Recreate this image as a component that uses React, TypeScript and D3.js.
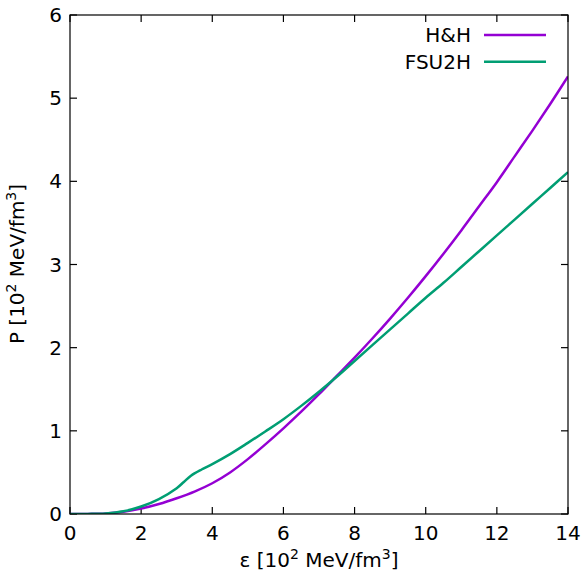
import React from "react";
import * as d3 from "d3";

const hhEps = [0, 0.5, 1, 1.5, 2, 2.5, 3, 3.5, 4, 4.5, 5, 5.5, 6, 6.5, 7, 7.5, 8, 8.5, 9, 9.5, 10, 10.5, 11, 11.5, 12, 12.5, 13, 13.5, 14];
const hhP = [0, 0.001, 0.006, 0.027, 0.065, 0.12, 0.19, 0.27, 0.37, 0.5, 0.66, 0.84, 1.03, 1.23, 1.44, 1.66, 1.88, 2.11, 2.35, 2.6, 2.86, 3.13, 3.41, 3.7, 3.99, 4.3, 4.61, 4.93, 5.26];

const fsuEps = [0, 0.5, 1, 1.5, 2, 2.5, 3, 3.2, 3.4, 3.7, 4, 4.5, 5, 5.5, 6, 6.5, 7, 7.5, 8, 8.5, 9, 9.5, 10, 10.5, 11, 11.5, 12, 12.5, 13, 13.5, 14];
const fsuP = [0, 0.001, 0.007, 0.032, 0.09, 0.18, 0.31, 0.385, 0.46, 0.535, 0.6, 0.72, 0.855, 0.995, 1.14, 1.3, 1.47, 1.65, 1.84, 2.03, 2.22, 2.41, 2.6, 2.78, 2.97, 3.16, 3.35, 3.54, 3.73, 3.92, 4.11];

const xTicks = [0, 2, 4, 6, 8, 10, 12, 14];
const yTicks = [0, 1, 2, 3, 4, 5, 6];
const seriesNames = ["H&H", "FSU2H"];
const colors = ["#9400d3", "#009e73"];

export default function App() {
  const W = 587, H = 573;
  const left = 70, right = 568, top = 15, bottom = 514;
  const x = d3.scaleLinear().domain([0, 14]).range([left, right]);
  const y = d3.scaleLinear().domain([0, 6]).range([bottom, top]);
  const line = d3.line<[number, number]>().x(d => x(d[0])).y(d => y(d[1])).curve(d3.curveCatmullRom.alpha(0.5));
  const series = [
    hhEps.map((e, i) => [e, hhP[i]] as [number, number]),
    fsuEps.map((e, i) => [e, fsuP[i]] as [number, number]),
  ];
  const font = "DejaVu Sans, sans-serif";
  const fs = 20;
  const tl = 7;
  return (
    <svg width={W} height={H} style={{ position: "absolute", left: 0, top: 0, background: "#fff" }} fontFamily={font}>
      <rect x={0} y={0} width={W} height={H} fill="#fff" />
      <defs>
        <clipPath id="clip"><rect x={left} y={top} width={right - left} height={bottom - top} /></clipPath>
      </defs>
      {xTicks.map(t => (
        <g key={"x" + t}>
          <line x1={x(t)} x2={x(t)} y1={bottom} y2={bottom - tl} stroke="#000" strokeWidth={1.2} />
          <line x1={x(t)} x2={x(t)} y1={top} y2={top + tl} stroke="#000" strokeWidth={1.2} />
          <text x={x(t)} y={540} textAnchor="middle" fontSize={fs}>{t}</text>
        </g>
      ))}
      {yTicks.map(t => (
        <g key={"y" + t}>
          <line x1={left} x2={left + tl} y1={y(t)} y2={y(t)} stroke="#000" strokeWidth={1.2} />
          <line x1={right} x2={right - tl} y1={y(t)} y2={y(t)} stroke="#000" strokeWidth={1.2} />
          <text x={62} y={y(t) + 7} textAnchor="end" fontSize={fs}>{t}</text>
        </g>
      ))}
      <g clipPath="url(#clip)">
        {series.map((s, i) => (
          <path key={i} d={line(s) || ""} fill="none" stroke={colors[i]} strokeWidth={2.5} />
        ))}
      </g>
      <rect x={left} y={top} width={right - left} height={bottom - top} fill="none" stroke="#000" strokeWidth={1.2} />
      {seriesNames.map((n, i) => (
        <g key={n}>
          <text x={471} y={35 + i * 26.7 + 7} textAnchor="end" fontSize={fs}>{n}</text>
          <line x1={484} x2={546} y1={35 + i * 26.7} y2={35 + i * 26.7} stroke={colors[i]} strokeWidth={2.5} />
        </g>
      ))}
      <text x={319} y={567} textAnchor="middle" fontSize={fs}>
        ε [10<tspan dy={-8} fontSize={14}>2</tspan><tspan dy={8}> MeV/fm</tspan><tspan dy={-8} fontSize={14}>3</tspan><tspan dy={8}>]</tspan>
      </text>
      <text transform={`translate(24,264) rotate(-90)`} textAnchor="middle" fontSize={fs}>
        P [10<tspan dy={-8} fontSize={14}>2</tspan><tspan dy={8}> MeV/fm</tspan><tspan dy={-8} fontSize={14}>3</tspan><tspan dy={8}>]</tspan>
      </text>
    </svg>
  );
}
